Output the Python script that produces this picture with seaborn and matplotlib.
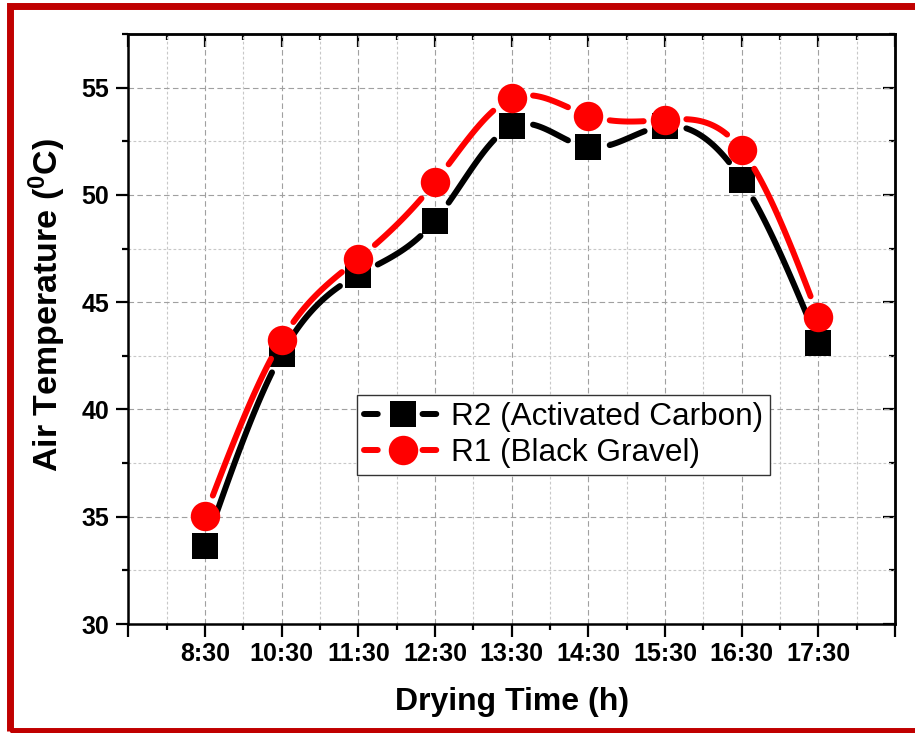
import numpy as np
import pandas as pd
import matplotlib
matplotlib.use("Agg")
import matplotlib.pyplot as plt
from matplotlib.lines import Line2D
from matplotlib.patches import Rectangle
from matplotlib.ticker import MultipleLocator, FixedLocator, FixedFormatter
import seaborn as sns

# ---- data -------------------------------------------------------------
times = ["8:30", "10:30", "11:30", "12:30", "13:30", "14:30", "15:30", "16:30", "17:30"]
r2_activated_carbon = [33.64, 42.60, 46.28, 48.80, 53.20, 52.22, 53.22, 50.70, 43.12]
r1_black_gravel = [35.04, 43.25, 47.02, 50.60, 54.50, 53.70, 53.50, 52.10, 44.33]
series_names = ["R2 (Activated Carbon)", "R1 (Black Gravel)"]
series_colors = {"R2 (Activated Carbon)": "#000000", "R1 (Black Gravel)": "#ff0000"}
series_markers = {"R2 (Activated Carbon)": "s", "R1 (Black Gravel)": "o"}
series_msize = {"R2 (Activated Carbon)": 19.4, "R1 (Black Gravel)": 21.2}

positions = np.arange(1, len(times) + 1)
points = pd.DataFrame({
    "pos": np.concatenate([positions, positions]),
    "temp": r2_activated_carbon + r1_black_gravel,
    "series": [series_names[0]] * len(times) + [series_names[1]] * len(times),
})

# ---- style ------------------------------------------------------------
sns.set_theme(style="white")
plt.rcParams["font.family"] = ["Liberation Sans", "DejaVu Sans"]
plt.rcParams["mathtext.fontset"] = "custom"
plt.rcParams["mathtext.bf"] = "Liberation Sans:bold"
plt.rcParams["mathtext.rm"] = "Liberation Sans"
plt.rcParams["text.color"] = "black"
plt.rcParams["axes.labelcolor"] = "black"
plt.rcParams["xtick.color"] = "black"
plt.rcParams["ytick.color"] = "black"

W, H = 915, 733
fig = plt.figure(figsize=(W / 100, H / 100), dpi=100)
fig.patch.set_facecolor("white")
ax = fig.add_axes([128.4 / W, 109 / H, 766.6 / W, 590 / H])
ax.set_xlim(0, 10)
ax.set_ylim(30, 57.5)


def natural_spline(x, y, n=80):
    """Natural cubic spline through (x, y), returned piece by piece."""
    x = np.asarray(x, float)
    y = np.asarray(y, float)
    k = len(x)
    h = np.diff(x)
    A = np.zeros((k, k))
    b = np.zeros(k)
    A[0, 0] = A[-1, -1] = 1.0
    for i in range(1, k - 1):
        A[i, i - 1] = h[i - 1]
        A[i, i] = 2 * (h[i - 1] + h[i])
        A[i, i + 1] = h[i]
        b[i] = 6 * ((y[i + 1] - y[i]) / h[i] - (y[i] - y[i - 1]) / h[i - 1])
    M = np.linalg.solve(A, b)
    pieces = []
    for i in range(k - 1):
        t = np.linspace(x[i], x[i + 1], n)
        a = x[i + 1] - t
        c = t - x[i]
        s = (M[i] * a ** 3 + M[i + 1] * c ** 3) / (6 * h[i]) \
            + (y[i] / h[i] - M[i] * h[i] / 6) * a \
            + (y[i + 1] / h[i] - M[i + 1] * h[i] / 6) * c
        pieces.append((t, s))
    return pieces


# connecting curves, stopped short of each symbol
gap_px = 21.0
rows = []
for name in series_names:
    sub = points[points["series"] == name]
    px, py = sub["pos"].to_numpy(), sub["temp"].to_numpy()
    ends = ax.transData.transform(np.column_stack([px, py]))
    for i, (t, s) in enumerate(natural_spline(px, py)):
        disp = ax.transData.transform(np.column_stack([t, s]))
        d0 = np.hypot(*(disp - ends[i]).T)
        d1 = np.hypot(*(disp - ends[i + 1]).T)
        keep = (d0 > gap_px) & (d1 > gap_px)
        for xv, yv in zip(t[keep], s[keep]):
            rows.append({"x": xv, "y": yv, "series": name, "seg": i})
curves = pd.DataFrame(rows)

for z, name in enumerate(series_names):
    sns.lineplot(data=curves[curves["series"] == name], x="x", y="y",
                 units="seg", estimator=None, sort=False, color=series_colors[name],
                 lw=4.3, solid_capstyle="round", legend=False, ax=ax, zorder=3 + 2 * z)
    sns.scatterplot(data=points[points["series"] == name], x="pos", y="temp",
                    marker=series_markers[name], s=series_msize[name] ** 2,
                    color=series_colors[name], linewidth=0, legend=False, ax=ax,
                    zorder=4 + 2 * z)

# ---- axes, ticks, grid -------------------------------------------------
ax.set_axisbelow(True)
ax.xaxis.set_major_locator(FixedLocator(list(range(0, 11))))
ax.xaxis.set_major_formatter(FixedFormatter([""] + times + [""]))
ax.xaxis.set_minor_locator(MultipleLocator(0.5))
ax.yaxis.set_major_locator(MultipleLocator(5))
ax.yaxis.set_minor_locator(MultipleLocator(2.5))
ax.grid(which="major", color="#a0a0a0", ls=(0, (5, 3)), lw=0.8)
ax.grid(which="minor", color="#c8c8c8", ls=(0, (2.5, 2)), lw=0.8)

ax.tick_params(which="both", bottom=True, left=True, top=False, right=False)
ax.tick_params(which="major", direction="out", length=9, width=1.6, color="black",
               labelsize=18, pad=4, labelcolor="black")
ax.tick_params(which="minor", direction="out", length=4.5, width=1.6, color="black")
ax.tick_params(axis="y", which="major", pad=5)
for lab in ax.get_xticklabels() + ax.get_yticklabels():
    lab.set_fontweight("bold")
    lab.set_color("black")

for side in ["left", "bottom", "top", "right"]:
    ax.spines[side].set_visible(True)
    ax.spines[side].set_color("black")
    ax.spines[side].set_linewidth(1.8)

top = ax.secondary_xaxis("top")
top.set_xticks(list(range(0, 11)))
top.xaxis.set_minor_locator(MultipleLocator(0.5))
top.tick_params(which="both", top=True)
top.tick_params(which="major", direction="in", length=9, width=1.6, labeltop=False)
top.tick_params(which="minor", direction="in", length=4.5, width=1.6)
top.spines["top"].set_linewidth(1.8)

right = ax.secondary_yaxis("right")
right.set_yticks([30, 35, 40, 45, 50, 55])
right.yaxis.set_minor_locator(MultipleLocator(2.5))
right.tick_params(which="both", right=True)
right.tick_params(which="major", direction="in", length=9, width=1.6, labelright=False)
right.tick_params(which="minor", direction="in", length=4.5, width=1.6)
right.spines["right"].set_linewidth(1.8)

ax.set_xlabel("Drying Time (h)", fontsize=23, fontweight="bold", labelpad=15,
              color="black")
ax.set_ylabel(r"Air Temperature ($\mathbf{^{0}}$C)", fontsize=24.5,
              fontweight="bold", color="black")
ax.yaxis.set_label_coords(-0.079, 0.54)

# ---- legend -----------------------------------------------------------
handles = [
    Line2D([], [], color=series_colors[n], lw=4.3, marker=series_markers[n],
           markersize=series_msize[n], markeredgewidth=0,
           linestyle=(0, (2.3, 7.5)), dash_capstyle="round")
    for n in series_names
]
leg = ax.legend(handles, series_names, loc="upper left",
                bbox_to_anchor=(0.2982, 0.3881), borderaxespad=0,
                fontsize=22.7, handlelength=2.5, handletextpad=0.25,
                labelspacing=0.2, borderpad=0.22, frameon=True,
                fancybox=False, framealpha=1)
leg.get_frame().set_edgecolor("#333333")
leg.get_frame().set_linewidth(1.0)
leg.set_zorder(10)
for txt in leg.get_texts():
    txt.set_color("black")

# ---- outer frame ------------------------------------------------------
fig.add_artist(Rectangle((9.5 / W, 2.0 / H), 2.0, 725.5 / H, transform=fig.transFigure,
                         fill=False, edgecolor="#c00000", lw=5.0, clip_on=False))

fig.savefig("out.png", dpi=100)
